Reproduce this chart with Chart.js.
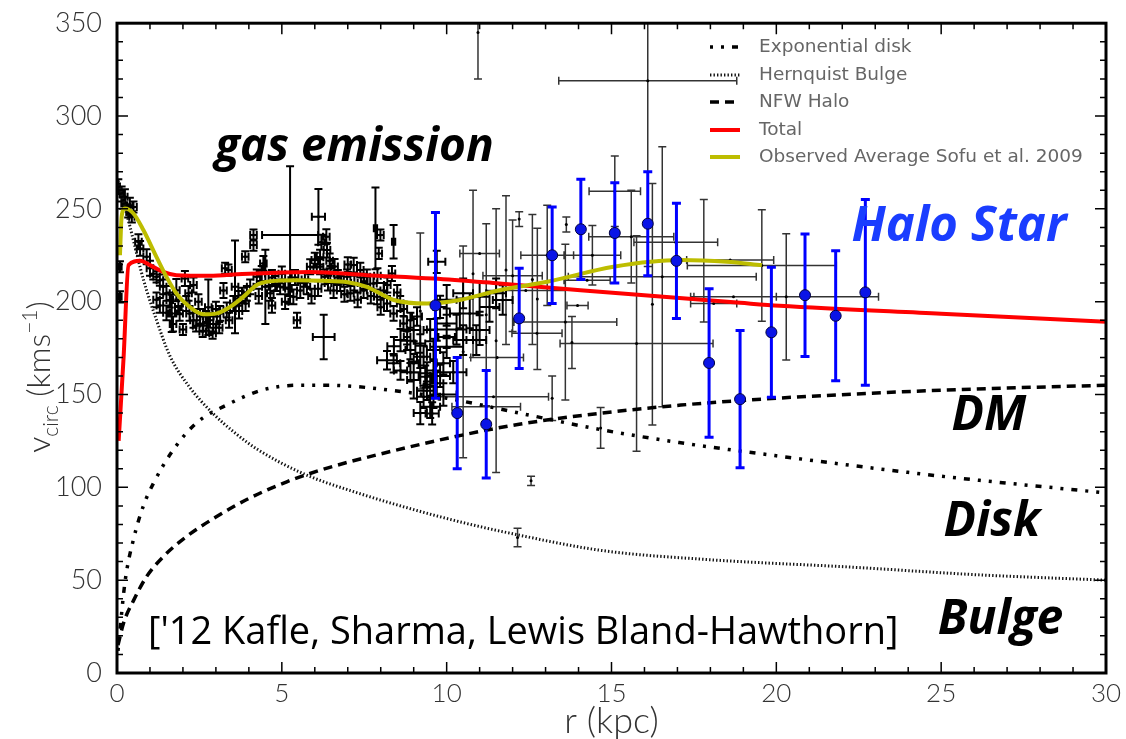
<!DOCTYPE html>
<html>
<head>
<meta charset="utf-8">
<title>Milky Way rotation curve</title>
<script src="https://cdn.jsdelivr.net/npm/chart.js@4.4.0/dist/chart.umd.min.js"></script>
<style>
  html, body { margin: 0; padding: 0; background: #fff; }
</style>
</head>
<body>
<canvas id="rotationChart" width="1126" height="739"></canvas>
<script>
// Axis ticks
const xTickValues = [0, 5, 10, 15, 20, 25, 30];
const yTickValues = [0, 50, 100, 150, 200, 250, 300, 350];

// Model components (r in kpc, v in km/s)
const diskR  = [0.03, 0.1, 0.25, 0.5, 0.8, 1.1, 1.7, 2.4, 3.4, 4.4, 5.5, 6.4, 7.3, 8.2, 10, 12.2, 14.7, 17.1, 20, 25, 30];
const diskV  = [12, 25, 50, 72, 90, 102, 120, 134.5, 145, 152.4, 155, 155, 154.2, 152.5, 148, 140, 131, 124, 117, 106, 97];
const bulgeR = [0.03, 0.15, 0.4, 0.8, 1.2, 1.6, 2.2, 2.9, 3.6, 4.3, 5.7, 7.3, 9, 10.5, 12, 14.7, 18, 22.3, 26, 30];
const bulgeV = [265, 257, 240, 212, 190, 171, 154, 140, 129, 120, 107, 97, 88, 81, 75, 66, 61, 57, 53, 50];
const haloR  = [0.03, 0.2, 0.5, 0.9, 1.4, 2.1, 3, 4, 5.15, 6.4, 8, 10.3, 12.2, 14.7, 17.1, 20, 25, 30];
const haloV  = [15, 27, 39, 52, 62.6, 73.4, 84, 94, 103, 110.5, 118, 127.5, 134, 140, 144.3, 148, 152.3, 155];
const totalR = [0.05, 0.2, 0.35, 0.7, 1.0, 1.4, 1.8, 2.8, 3.8, 4.85, 5.86, 7.58, 9.6, 11.6, 14.06, 18.9, 20.1, 25, 30];
const totalV = [125, 170, 219.7, 222, 219.7, 216, 214.3, 214, 214.9, 215.6, 216, 214.3, 212.5, 209.8, 206.2, 199.4, 197.8, 193.5, 189.2];
const sofuR  = [0.09, 0.14, 0.24, 0.5, 0.8, 1.2, 1.5, 1.8, 2.2, 2.62, 3.03, 3.43, 3.83, 4.24, 4.65, 5.45, 6.26, 7.0, 7.58, 8.39, 9.4, 10.4, 11.6, 13.05, 15.06, 17.1, 18.5, 19.56];
const sofuV  = [225, 245.7, 250.2, 247.5, 238.6, 224, 213.4, 204.5, 197.2, 193.2, 193.7, 197.2, 202.6, 209, 211, 211.6, 211.3, 210.5, 208, 200.9, 199, 200.9, 206.2, 210.7, 218.8, 222.4, 221.5, 219.7];

// Gas emission measurements: [r, v, r error, v error]
const gasPoints = [
  [0.04, 262, 0.05, 4], [0.14, 258, 0.06, 4], [0.24, 256.5, 0.08, 4], [0.19, 253, 0.06, 3], [0.39, 252, 0.08, 4],
  [0.5, 251, 0.1, 3], [0.34, 248.4, 0.06, 3], [0.45, 245.7, 0.08, 3], [0.65, 232.3, 0.1, 4], [0.7, 228.7, 0.1, 4],
  [0.09, 218.8, 0.05, 3], [0.09, 202.6, 0.05, 3], [0.9, 224.2, 0.1, 4], [1.0, 218, 0.1, 4], [1.1, 215, 0.1, 3],
  [1.2, 213.4, 0.1, 3], [1.3, 211.6, 0.1, 3], [1.4, 208, 0.1, 4], [1.3, 198, 0.1, 4], [1.5, 204.5, 0.1, 4],
  [1.6, 200.9, 0.1, 4], [1.66, 193.7, 0.1, 10], [1.8, 206.2, 0.1, 6], [1.86, 197.2, 0.1, 4], [1.9, 193.7, 0.1, 4],
  [2.06, 212.5, 0.1, 4], [2.17, 204.5, 0.1, 4], [2.32, 209, 0.1, 4], [2.2, 193.7, 0.1, 4], [2.32, 190, 0.1, 4],
  [2.47, 200, 0.1, 4], [2.52, 192, 0.1, 4], [2.62, 188.3, 0.1, 4], [2.77, 197, 0.1, 15], [2.82, 190, 0.1, 4],
  [2.92, 188, 0.1, 4], [3.03, 192, 0.1, 4], [3.13, 193.7, 0.1, 4], [3.23, 206, 0.1, 4], [3.28, 218, 0.1, 3],
  [3.38, 217, 0.1, 3], [3.33, 195.5, 0.1, 4], [3.53, 199, 0.1, 4], [3.58, 208, 0.1, 25], [3.68, 201.8, 0.1, 4],
  [3.79, 203.5, 0.1, 4], [3.89, 224.2, 0.1, 3], [3.94, 204.5, 0.1, 4], [4.04, 208, 0.1, 4], [4.14, 230.5, 0.1, 3],
  [4.14, 235.9, 0.1, 3], [4.24, 213.4, 0.1, 4], [4.39, 215.2, 0.1, 4], [4.44, 220.6, 0.1, 4], [4.5, 208, 0.1, 20],
  [4.65, 204.5, 0.1, 4], [4.8, 209.8, 0.1, 4], [4.95, 208, 0.1, 4], [5.1, 211.6, 0.1, 4], [5.25, 235.9, 0.85, 37],
  [5.35, 202.6, 0.1, 4], [5.56, 206, 0.1, 4], [5.46, 190, 0.1, 4], [5.76, 208, 0.1, 4], [5.86, 218.8, 0.1, 4],
  [6.0, 222.4, 0.1, 4], [6.11, 245.7, 0.2, 15], [6.16, 218.8, 0.1, 4], [6.27, 181, 0.33, 12], [6.3, 213.4, 0.1, 4],
  [6.16, 224, 0.1, 4], [6.37, 227.8, 0.1, 4], [6.47, 215.2, 0.1, 4], [6.57, 206, 0.1, 4], [6.77, 209.8, 0.1, 4],
  [6.98, 213.4, 0.1, 4], [7.08, 204.5, 0.1, 4], [7.18, 219.7, 0.1, 4], [7.38, 217, 0.1, 4], [7.48, 206, 0.1, 4],
  [7.58, 213.4, 0.1, 4], [7.78, 209.8, 0.1, 4], [7.84, 239.5, 0.05, 22], [7.94, 226, 0.1, 3], [7.99, 235.9, 0.1, 3],
  [7.89, 202.6, 0.1, 4], [8.09, 206, 0.1, 4], [8.19, 199, 0.1, 4], [8.34, 215.2, 0.1, 4], [8.39, 232.3, 0.05, 9],
  [8.39, 193.7, 0.1, 4], [8.59, 199, 0.1, 4], [8.69, 188.3, 0.1, 4], [8.8, 181, 0.1, 4], [8.9, 174, 0.15, 5],
  [9.0, 166.8, 0.15, 5], [9.1, 192, 0.15, 5], [9.2, 177.5, 0.15, 5], [9.3, 170.3, 0.2, 6], [9.35, 159.6, 0.2, 6],
  [9.5, 184.7, 0.2, 6], [9.6, 174, 0.2, 6], [9.7, 156, 0.2, 6], [9.8, 197.2, 0.2, 6], [9.9, 166.8, 0.2, 6],
  [10.0, 181, 0.25, 6], [8.19, 168.5, 0.3, 5], [8.39, 166.8, 0.2, 5], [8.6, 163, 0.2, 5], [8.8, 179, 0.2, 5],
  [9.0, 157.8, 0.2, 10], [9.2, 170.3, 0.2, 6], [9.4, 161.4, 0.2, 6], [9.5, 154.2, 0.2, 6], [9.3, 148.8, 0.2, 6],
  [9.6, 148.8, 0.2, 6], [9.5, 143.4, 0.3, 6], [9.56, 139.8, 0.2, 6], [9.0, 184.7, 0.2, 6], [8.6, 179.3, 0.2, 6],
  [10.0, 175.7, 0.5, 6], [10.0, 188.3, 0.3, 8], [10.5, 179.3, 0.3, 8], [10.9, 179.3, 0.3, 8], [11.0, 184.7, 0.3, 8],
  [10.7, 193.7, 0.3, 8], [10.4, 193.7, 0.3, 8], [10.0, 201, 0.3, 8], [10.5, 204.5, 0.3, 8], [11.0, 202.6, 0.3, 8],
  [11.3, 197.2, 0.3, 8], [11.5, 204.5, 0.3, 8], [11.7, 200.9, 0.3, 8], [9.7, 221.5, 0.26, 6],
  [2.0, 185, 0.1, 3], [2.4, 187, 0.1, 3], [2.6, 184, 0.1, 3], [2.9, 183, 0.1, 3], [3.1, 186, 0.1, 3],
  [2.7, 192, 0.1, 3], [3.4, 190, 0.1, 4], [3.7, 195, 0.1, 4], [3.9, 199, 0.1, 4], [4.3, 203, 0.1, 4],
  [4.7, 213, 0.1, 4], [5.0, 215, 0.1, 4], [5.2, 207, 0.1, 4], [5.4, 213, 0.1, 4], [5.7, 212, 0.1, 4],
  [5.9, 203, 0.1, 4], [6.1, 207, 0.1, 4], [6.4, 210, 0.1, 4], [6.6, 219, 0.1, 4], [6.7, 213, 0.1, 4],
  [6.9, 204, 0.1, 4], [7.0, 220, 0.1, 4], [7.2, 210, 0.1, 4], [7.3, 201, 0.1, 4], [7.5, 211, 0.1, 4],
  [7.7, 203, 0.1, 4], [7.9, 214, 0.1, 4], [8.0, 197, 0.1, 4], [8.2, 209, 0.1, 4], [8.5, 205, 0.1, 4],
  [8.7, 196, 0.1, 4], [8.9, 190, 0.1, 4], [1.5, 194, 0.1, 4], [1.7, 188, 0.1, 4], [1.2, 201, 0.1, 4],
  [2.1, 199, 0.1, 4], [6.2, 232, 0.1, 4], [6.45, 222, 0.1, 4], [6.35, 235, 0.1, 4], [4.7, 198, 0.1, 4],
  [5.1, 200, 0.1, 4], [3.0, 196, 0.1, 4], [9.4, 152, 0.3, 5], [9.2, 140, 0.2, 6], [9.8, 160, 0.3, 6],
  [9.7, 185, 0.3, 6], [9.9, 150, 0.4, 6], [9.6, 163, 0.2, 6], [10.2, 162, 0.4, 6], [10.3, 185, 0.3, 8],
  [8.4, 176, 0.2, 5], [8.9, 162, 0.3, 5]
];

// Outer tracers with large errors: [r, v, r error, v error]
const outerPoints = [
  [9.2, 195, 0, 42], [10.5, 173, 0, 57], [11.2, 193, 0, 49], [11.5, 179, 0, 71], [11.8, 217, 0, 40],
  [12.2, 244.5, 0, 4], [12.75, 201.5, 0, 38], [13.05, 225, 0.8, 27], [13.2, 148, 0, 12], [13.63, 241.6, 0, 4],
  [13.6, 189, 1.56, 42], [13.8, 178, 0, 14], [14.67, 132, 0, 11], [15.1, 259.5, 0.78, 19], [15.6, 235, 1.29, 25],
  [15.76, 177.5, 2.32, 58], [16.24, 198.6, 0, 65], [16.54, 213.4, 2.85, 70], [16.95, 232, 1.27, 0], [14.42, 225, 0.86, 16],
  [14.26, 211.6, 0.7, 0], [13.97, 198, 0.32, 0], [12.74, 183, 0.76, 0], [11.53, 170, 0.8, 0], [11.42, 148.8, 1.67, 0],
  [11.2, 143.4, 1.04, 0], [17.8, 222, 0, 33], [18.6, 222.4, 1.32, 0], [18.7, 202.6, 1.3, 0], [18.1, 199, 0.7, 0],
  [19.56, 219.5, 2.26, 30], [20.3, 202.6, 2.8, 34], [16.1, 319, 2.7, 100], [10.95, 345, 0, 25], [12.15, 73, 0, 5],
  [12.56, 103.5, 0, 2.5], [12.0, 214, 0.9, 30], [12.4, 206, 1.2, 0], [10.8, 215, 0, 45], [12.6, 212, 0, 35],
  [11.0, 226, 0.6, 0]
];

// Halo stars: [r, v, v error]
const haloStars = [
  [9.66, 198, 50], [10.32, 140, 30], [11.2, 134, 29], [12.2, 191, 27], [13.2, 225, 26],
  [14.07, 239, 27], [15.1, 237, 27], [16.1, 242, 28], [16.97, 222, 31], [17.96, 167, 40],
  [18.9, 147.5, 37], [19.85, 183.5, 35], [20.87, 203.5, 33], [21.8, 192.4, 35], [22.7, 205, 50]
];

const legendLabels = ['Exponential disk', 'Hernquist Bulge', 'NFW Halo', 'Total', 'Observed Average Sofu et al. 2009'];

const LIGHT_FONT = "Lato, 'Open Sans', sans-serif";
const LEGEND_FONT = "'DejaVu Sans', sans-serif";
const SANS = "'Open Sans', 'DejaVu Sans', sans-serif";

function toXY(rs, vs) {
    return rs.map((r, i) => ({ x: r, y: vs[i] }));
}

function withErrors(rows) {
    return rows.map(p => ({ x: p[0], y: p[1], xErr: p[2], yErr: p[3] }));
}

function modelLine(label, rs, vs, style) {
    return Object.assign({
        type: 'line',
        label: label,
        data: toXY(rs, vs),
        showLine: true,
        fill: false,
        pointRadius: 0,
        cubicInterpolationMode: 'monotone'
    }, style);
}

// Error bars drawn right before their own dataset
const errorBarPlugin = {
    id: 'errorBars',
    beforeDatasetDraw(chart, args) {
        const ds = chart.data.datasets[args.index];
        const eb = ds.errorBars;
        if (!eb) return;
        const { ctx, chartArea: a, scales: { x, y } } = chart;
        ctx.save();
        ctx.beginPath();
        ctx.rect(a.left, a.top, a.right - a.left, a.bottom - a.top);
        ctx.clip();
        ctx.strokeStyle = eb.color;
        ctx.lineWidth = eb.width;
        ctx.beginPath();
        ds.data.forEach(p => {
            const px = x.getPixelForValue(p.x);
            const py = y.getPixelForValue(p.y);
            if (p.xErr) {
                const x0 = x.getPixelForValue(p.x - p.xErr);
                const x1 = x.getPixelForValue(p.x + p.xErr);
                ctx.moveTo(x0, py); ctx.lineTo(x1, py);
                ctx.moveTo(x0, py - eb.cap); ctx.lineTo(x0, py + eb.cap);
                ctx.moveTo(x1, py - eb.cap); ctx.lineTo(x1, py + eb.cap);
            }
            if (p.yErr) {
                const y0 = y.getPixelForValue(p.y - p.yErr);
                const y1 = y.getPixelForValue(p.y + p.yErr);
                ctx.moveTo(px, y0); ctx.lineTo(px, y1);
                ctx.moveTo(px - eb.cap, y0); ctx.lineTo(px + eb.cap, y0);
                ctx.moveTo(px - eb.cap, y1); ctx.lineTo(px + eb.cap, y1);
            }
        });
        ctx.stroke();
        ctx.restore();
    }
};

// Box frame with inward major/minor ticks on all sides
const framePlugin = {
    id: 'frame',
    afterDatasetsDraw(chart) {
        const { ctx, chartArea: a, scales: { x, y } } = chart;
        ctx.save();
        ctx.strokeStyle = '#000';
        ctx.lineWidth = 1.5;
        ctx.beginPath();
        for (let r = 0; r <= 30; r += 1) {
            const px = x.getPixelForValue(r);
            const len = r % 5 === 0 ? 11 : 6;
            ctx.moveTo(px, a.bottom); ctx.lineTo(px, a.bottom - len);
            ctx.moveTo(px, a.top); ctx.lineTo(px, a.top + len);
        }
        for (let v = 0; v <= 350; v += 10) {
            const py = y.getPixelForValue(v);
            const len = v % 50 === 0 ? 11 : 6;
            ctx.moveTo(a.left, py); ctx.lineTo(a.left + len, py);
            ctx.moveTo(a.right, py); ctx.lineTo(a.right - len, py);
        }
        ctx.stroke();
        ctx.lineWidth = 3;
        ctx.strokeRect(a.left, a.top, a.right - a.left, a.bottom - a.top);
        ctx.restore();
    }
};

// Legend inside the plot, annotations and the y axis title
const decorPlugin = {
    id: 'decor',
    afterDraw(chart) {
        const { ctx, scales: { x, y } } = chart;
        ctx.save();

        // legend
        const rowY = [47, 75, 102, 130, 157];
        legendLabels.forEach((label, i) => {
            const ds = chart.data.datasets.find(d => d.label === label);
            ctx.save();
            ctx.strokeStyle = ds.borderColor;
            ctx.lineWidth = ds.borderWidth;
            ctx.setLineDash(ds.borderDash || []);
            ctx.beginPath();
            ctx.moveTo(710, rowY[i]);
            ctx.lineTo(740, rowY[i]);
            ctx.stroke();
            ctx.restore();
            ctx.fillStyle = '#666';
            ctx.font = '18.5px ' + LEGEND_FONT;
            ctx.textBaseline = 'middle';
            ctx.textAlign = 'left';
            ctx.fillText(label, 759, rowY[i]);
        });

        // annotations
        const notes = [
            { text: 'gas emission', r: 7.2, v: 283, color: '#000', font: 'italic bold 46px ' + SANS },
            { text: 'Halo Star', r: 25.54, v: 240, color: '#1a3dff', font: 'italic bold 49px ' + SANS },
            { text: 'DM', r: 26.45, v: 138, color: '#000', font: 'italic bold 48px ' + SANS },
            { text: 'Disk', r: 26.54, v: 81, color: '#000', font: 'italic bold 48px ' + SANS },
            { text: 'Bulge', r: 26.8, v: 28.5, color: '#000', font: 'italic bold 48px ' + SANS }
        ];
        ctx.textAlign = 'center';
        ctx.textBaseline = 'middle';
        notes.forEach(n => {
            ctx.fillStyle = n.color;
            ctx.font = n.font;
            ctx.fillText(n.text, x.getPixelForValue(n.r), y.getPixelForValue(n.v));
        });
        ctx.textAlign = 'left';
        ctx.fillStyle = '#000';
        ctx.font = '38px ' + SANS;
        ctx.fillText("['12 Kafle, Sharma, Lewis Bland-Hawthorn]", x.getPixelForValue(0.94), y.getPixelForValue(21.5));

        // y axis title: v_circ (kms^-1)
        const parts = [
            { t: 'v', size: 32, dy: 0 },
            { t: 'circ', size: 21, dy: 8 },
            { t: ' (kms', size: 32, dy: 0 },
            { t: '\u22121', size: 21, dy: -13 },
            { t: ')', size: 32, dy: 0 }
        ];
        let total = 0;
        parts.forEach(p => { ctx.font = '300 ' + p.size + 'px ' + LIGHT_FONT; p.w = ctx.measureText(p.t).width; total += p.w; });
        ctx.translate(50, 377 + total / 2);
        ctx.rotate(-Math.PI / 2);
        ctx.fillStyle = '#333';
        ctx.textBaseline = 'alphabetic';
        let cx = 0;
        parts.forEach(p => {
            ctx.font = '300 ' + p.size + 'px ' + LIGHT_FONT;
            ctx.fillText(p.t, cx, p.dy);
            cx += p.w;
        });
        ctx.restore();
    }
};

const ctx = document.getElementById('rotationChart');

new Chart(ctx, {
    type: 'scatter',
    data: {
        datasets: [
            {
                label: 'Halo Star',
                data: haloStars.map(p => ({ x: p[0], y: p[1], xErr: 0, yErr: p[2] })),
                pointRadius: 5.5,
                pointBackgroundColor: '#0a14e6',
                pointBorderColor: '#000040',
                pointBorderWidth: 1,
                errorBars: { color: '#0000ff', width: 3, cap: 4.5 }
            },
            modelLine('Observed Average Sofu et al. 2009', sofuR, sofuV, { borderColor: '#bdbd00', borderWidth: 4 }),
            modelLine('Total', totalR, totalV, { borderColor: '#ff0000', borderWidth: 4 }),
            modelLine('NFW Halo', haloR, haloV, { borderColor: '#000', borderWidth: 3.5, borderDash: [9, 6] }),
            modelLine('Hernquist Bulge', bulgeR, bulgeV, { borderColor: '#111', borderWidth: 3, borderDash: [1.4, 2.1] }),
            modelLine('Exponential disk', diskR, diskV, { borderColor: '#000', borderWidth: 3.5, borderDash: [3, 8, 3, 8, 6, 8] }),
            {
                label: 'Outer tracers',
                data: withErrors(outerPoints),
                pointRadius: 1.5,
                pointBackgroundColor: '#000',
                pointBorderWidth: 0,
                errorBars: { color: 'rgba(0,0,0,0.8)', width: 1.5, cap: 4 }
            },
            {
                label: 'Gas emission',
                data: withErrors(gasPoints),
                pointRadius: 1.5,
                pointBackgroundColor: '#000',
                pointBorderWidth: 0,
                errorBars: { color: '#000', width: 2, cap: 4 }
            }
        ]
    },
    options: {
        responsive: false,
        animation: false,
        events: [],
        layout: { padding: { left: 0, top: 23, right: 20, bottom: 0 } },
        plugins: {
            legend: { display: false },
            tooltip: { enabled: false }
        },
        scales: {
            x: {
                type: 'linear',
                min: 0,
                max: 30,
                afterBuildTicks: scale => { scale.ticks = xTickValues.map(v => ({ value: v })); },
                afterFit: scale => { scale.height = 66; },
                grid: { display: false },
                border: { display: false },
                ticks: {
                    padding: 0,
                    color: '#333',
                    font: { family: LIGHT_FONT, size: 26, weight: 300, lineHeight: 1 }
                },
                title: {
                    display: true,
                    text: 'r (kpc)',
                    color: '#333',
                    padding: { top: 0, bottom: 0 },
                    font: { family: LIGHT_FONT, size: 36, weight: 300, lineHeight: 1 }
                }
            },
            y: {
                type: 'linear',
                min: 0,
                max: 350,
                afterBuildTicks: scale => { scale.ticks = yTickValues.map(v => ({ value: v })); },
                afterFit: scale => { scale.width = 117; },
                grid: { display: false },
                border: { display: false },
                ticks: {
                    padding: 7,
                    color: '#333',
                    font: { family: LIGHT_FONT, size: 27, weight: 300 }
                }
            }
        }
    },
    plugins: [errorBarPlugin, framePlugin, decorPlugin]
});
</script>
</body>
</html>
